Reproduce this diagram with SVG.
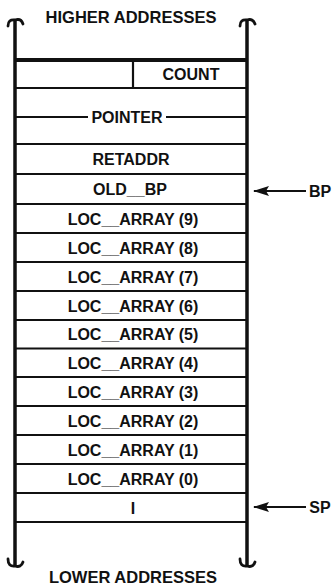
<svg xmlns="http://www.w3.org/2000/svg" width="334" height="587" viewBox="0 0 334 587">
<style>
text{font-family:"Liberation Sans",Arial,sans-serif;font-weight:bold;font-size:16px;fill:#111;text-anchor:middle}
.v{stroke:#111;stroke-width:3.5;fill:none}
.h{stroke:#111;stroke-width:2.2}
.hk{stroke:#111;stroke-width:2.8;fill:none;stroke-linecap:round}
.ar{stroke:#111;stroke-width:2}
</style>
<defs>
<marker id="ah" viewBox="0 0 16 10" refX="15" refY="5" markerWidth="16" markerHeight="10" markerUnits="userSpaceOnUse" orient="auto">
<path d="M16,5 L0,0 L3,5 L0,10 Z" fill="#111"/>
</marker>
</defs>
<g id="frame">
<line class="v" x1="15" y1="20" x2="15" y2="566"/>
<line class="v" x1="247" y1="20" x2="247" y2="566"/>
<path class="hk" d="M8,26 Q8,19 15,20 Q21,18 23,24"/>
<path class="hk" d="M240,26 Q240,19 247,20 Q253,18 255,24"/>
<path class="hk" d="M8,559 Q8,567 15,566 Q21,568 23,562"/>
<path class="hk" d="M240,559 Q240,567 247,566 Q253,568 255,562"/>
<line x1="15" y1="60" x2="247" y2="60" stroke="#111" stroke-width="4"/>
</g>
<text id="higher" x="131" y="23" style="font-size:16.5px">HIGHER ADDRESSES</text>
<text id="lower" x="133" y="583" style="font-size:16.5px">LOWER ADDRESSES</text>
<g id="count">
<line class="h" x1="133" y1="60" x2="133" y2="88"/>
<line class="h" x1="15" y1="88" x2="247" y2="88"/>
<text x="191" y="80">COUNT</text>
</g>
<g id="pointer">
<line class="h" x1="15" y1="117" x2="88" y2="117"/>
<line class="h" x1="166" y1="117" x2="247" y2="117"/>
<text x="127" y="123">POINTER</text>
<line class="h" x1="15" y1="144" x2="247" y2="144"/>
</g>
<g id="retaddr">
<text x="131" y="165">RETADDR</text>
<line class="h" x1="15" y1="174" x2="247" y2="174"/>
</g>
<g id="old_bp">
<text x="130" y="195">OLD__BP</text>
<line class="h" x1="15" y1="204" x2="247" y2="204"/>
</g>
<g id="loc9"><text x="133" y="224.5">LOC__ARRAY (9)</text><line class="h" x1="15" y1="233" x2="247" y2="233"/></g>
<g id="loc8"><text x="133" y="253.5">LOC__ARRAY (8)</text><line class="h" x1="15" y1="262" x2="247" y2="262"/></g>
<g id="loc7"><text x="133" y="282.5">LOC__ARRAY (7)</text><line class="h" x1="15" y1="291" x2="247" y2="291"/></g>
<g id="loc6"><text x="133" y="311.5">LOC__ARRAY (6)</text><line class="h" x1="15" y1="320" x2="247" y2="320"/></g>
<g id="loc5"><text x="133" y="340">LOC__ARRAY (5)</text><line class="h" x1="15" y1="348.5" x2="247" y2="348.5"/></g>
<g id="loc4"><text x="133" y="368.5">LOC__ARRAY (4)</text><line class="h" x1="15" y1="377" x2="247" y2="377"/></g>
<g id="loc3"><text x="133" y="397.5">LOC__ARRAY (3)</text><line class="h" x1="15" y1="406" x2="247" y2="406"/></g>
<g id="loc2"><text x="133" y="426.5">LOC__ARRAY (2)</text><line class="h" x1="15" y1="435" x2="247" y2="435"/></g>
<g id="loc1"><text x="133" y="455.5">LOC__ARRAY (1)</text><line class="h" x1="15" y1="464" x2="247" y2="464"/></g>
<g id="loc0"><text x="133" y="484.5">LOC__ARRAY (0)</text><line class="h" x1="15" y1="493" x2="247" y2="493"/></g>
<g id="i"><text x="133" y="513.5">I</text><line class="h" x1="15" y1="522" x2="247" y2="522"/></g>
<g id="bp"><text x="320" y="197">BP</text></g>
<g id="sp"><text x="320" y="513">SP</text></g>
<g id="connectors">
<line class="ar" x1="306" y1="191" x2="254" y2="191" marker-end="url(#ah)"/>
<line class="ar" x1="306" y1="507" x2="254" y2="507" marker-end="url(#ah)"/>
</g>
</svg>
